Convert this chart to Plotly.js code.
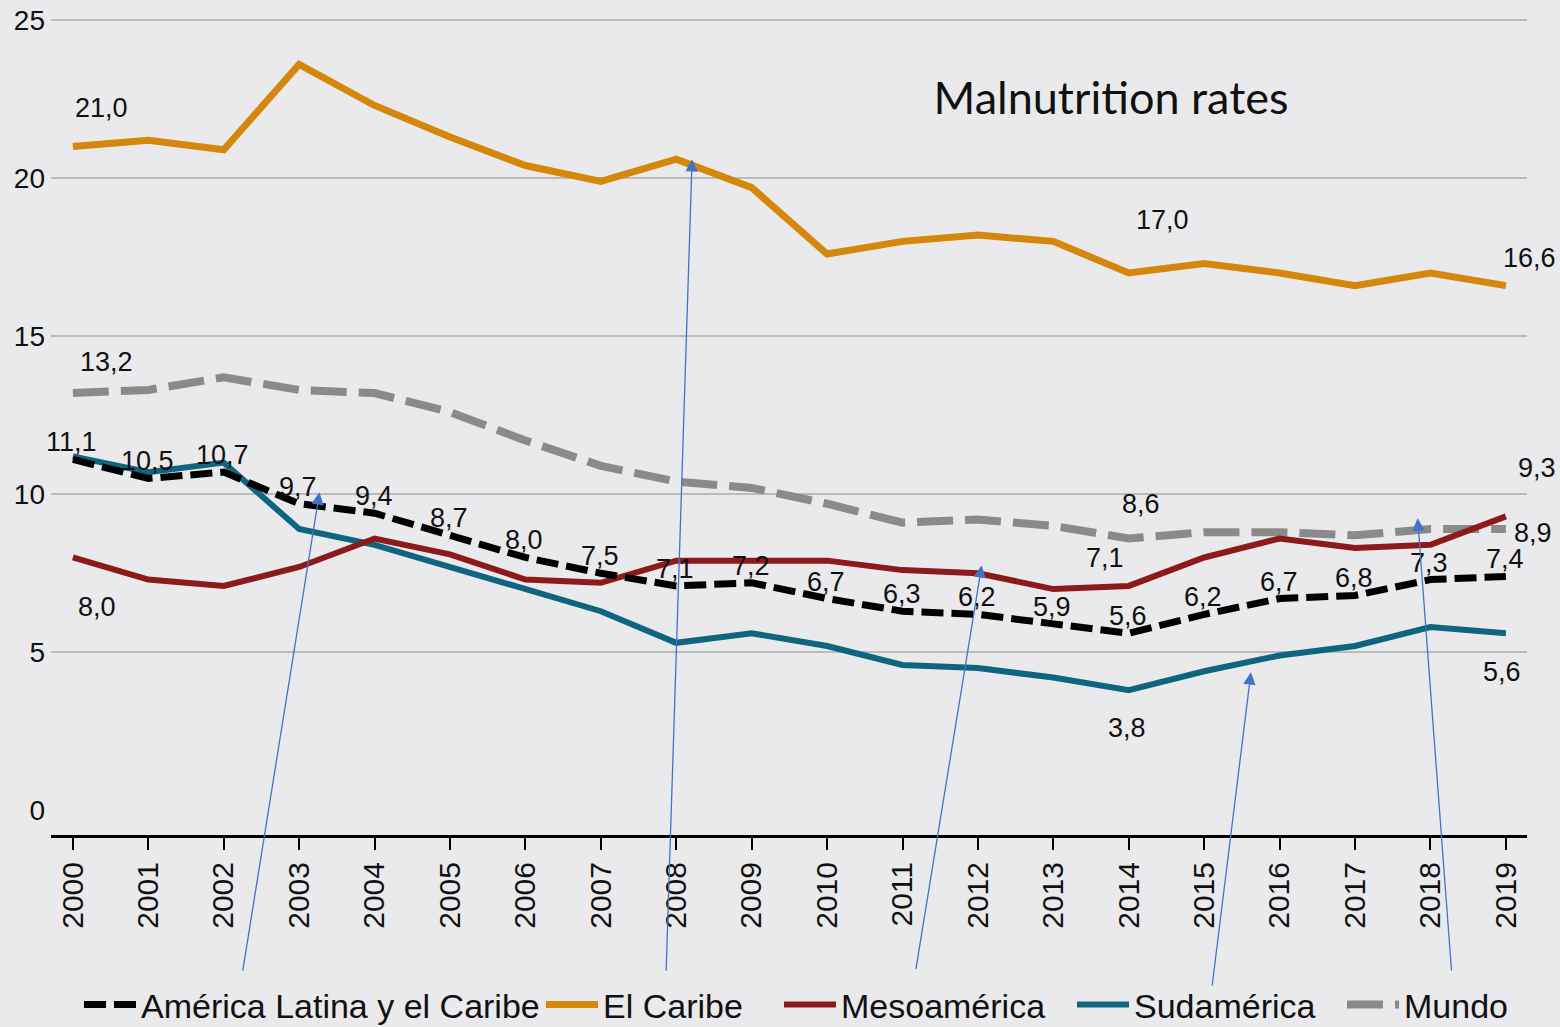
<!DOCTYPE html>
<html><head><meta charset="utf-8">
<script src="https://cdn.plot.ly/plotly-3.0.1.min.js"></script>
<style>html,body{margin:0;padding:0;background:#eaeaec;} #chart{width:1560px;height:1027px;}</style>
</head><body><div id="chart"></div>
<script>
// ---- data ----
const years = [2000,2001,2002,2003,2004,2005,2006,2007,2008,2009,2010,2011,2012,2013,2014,2015,2016,2017,2018,2019];
const yearLabels = ["2000","2001","2002","2003","2004","2005","2006","2007","2008","2009","2010","2011","2012","2013","2014","2015","2016","2017","2018","2019"];
const alc    = [11.1,10.5,10.7,9.7,9.4,8.7,8.0,7.5,7.1,7.2,6.7,6.3,6.2,5.9,5.6,6.2,6.7,6.8,7.3,7.4];
const caribe = [21.0,21.2,20.9,23.6,22.3,21.3,20.4,19.9,20.6,19.7,17.6,18.0,18.2,18.0,17.0,17.3,17.0,16.6,17.0,16.6];
const meso   = [8.0,7.3,7.1,7.7,8.6,8.1,7.3,7.2,7.9,7.9,7.9,7.6,7.5,7.0,7.1,8.0,8.6,8.3,8.4,9.3];
const sud    = [11.2,10.7,11.0,8.9,8.4,7.7,7.0,6.3,5.3,5.6,5.2,4.6,4.5,4.2,3.8,4.4,4.9,5.2,5.8,5.6];
const mundo  = [13.2,13.3,13.7,13.3,13.2,12.6,11.7,10.9,10.4,10.2,9.7,9.1,9.2,9.0,8.6,8.8,8.8,8.7,8.9,8.9];
const seriesNames = ["América Latina y el Caribe","El Caribe","Mesoamérica","Sudamérica","Mundo"];
const chartTitle = "Malnutrition rates";

// ---- styles ----
const SANS = "'Liberation Sans', Arial, Helvetica, sans-serif";
const fmt = v => v.toFixed(1).replace('.', ',');
const C = {alc:'#000000', caribe:'#d4870b', meso:'#8c1a1a', sud:'#0f6480', mundo:'#8a8a8a'};

function tr(y, name, color, width, dash, leg){
  return {x: years, y: y, name: name, type:'scatter', mode:'lines',
    line:{color:color, width:width, dash:dash}, legend: leg, hoverinfo:'skip'};
}
const data = [
  tr(mundo, seriesNames[4], C.mundo, 8, '36px,12px', 'legend5'),
  tr(caribe, seriesNames[1], C.caribe, 7, 'solid', 'legend2'),
  tr(sud, seriesNames[3], C.sud, 6, 'solid', 'legend4'),
  tr(meso, seriesNames[2], C.meso, 6, 'solid', 'legend3'),
  tr(alc, seriesNames[0], C.alc, 7, '22px,8px', 'legend'),
  // invisible carrier so the secondary axis (the "0" label) is drawn
  {x: years, y: alc, yaxis:'y2', type:'scatter', mode:'lines', opacity:0,
    line:{width:0}, showlegend:false, hoverinfo:'skip'}
];

// ---- value labels ----
const annotations = [];
function lab(series, i, dx, dy){
  annotations.push({x: years[i], y: series[i], xref:'x', yref:'y', text: fmt(series[i]),
    showarrow:false, xshift:dx, yshift:dy, xanchor:'center', yanchor:'middle',
    font:{family:SANS, size:27, color:'#111'}});
}
for (let i = 0; i < years.length; i++) lab(alc, i, -1, 17);
lab(caribe, 0, 29, 39); lab(caribe, 14, 34, 53); lab(caribe, 19, 24, 28);
lab(mundo, 0, 34, 31); lab(mundo, 14, 12, 35); lab(mundo, 19, 27, -4);
lab(meso, 0, 24, -50); lab(meso, 14, -24, 28); lab(meso, 19, 31, 48);
lab(sud, 14, -2, -38); lab(sud, 19, -4, -39);

// ---- pointer arrows ----
const arrows = [
  {x:2003.27, y:10.06, ax:-77, ay:480},
  {x:2008.21, y:20.6, ax:-26, ay:813},
  {x:2012.05, y:7.75, ax:-66, ay:405},
  {x:2015.62, y:4.37, ax:-39, ay:315},
  {x:2017.83, y:9.24, ax:34, ay:454}
];
arrows.forEach(a => annotations.push({x:a.x, y:a.y, xref:'x', yref:'y', ax:a.ax, ay:a.ay,
  axref:'pixel', ayref:'pixel', text:'', showarrow:true, arrowhead:2, arrowsize:1.9,
  arrowwidth:1.3, arrowcolor:'#4472c4', standoff:0}));

// legend boxes (one per series, placed like the reference)
const PL = 51, PW = 1476, PB = 835, PH = 825;
function leg(px){
  return {orientation:'h', x:(px - PL)/PW, xanchor:'left', y:(PB - 1005)/PH, yanchor:'middle',
    bgcolor:'rgba(0,0,0,0)', borderwidth:0, itemwidth:52,
    font:{family:SANS, size:34, color:'#111'}};
}

const yfont = {family:SANS, size:28, color:'#111'};
const layout = {
  width:1560, height:1027,
  paper_bgcolor:'#eaeaec', plot_bgcolor:'#eaeaec',
  margin:{l:PL, r:1560 - PL - PW, t:10, b:1027 - PB, autoexpand:false},
  title:{text: chartTitle, x: 1111/1560, xref:'container', xanchor:'center',
    y: 1 - 98/1027, yref:'container', yanchor:'middle',
    font:{family:"Lato, 'Open Sans', sans-serif", size:45, color:'#111'}},
  xaxis:{range:[1999.71, 2019.28], tickvals: years, ticktext: yearLabels, tickangle:-90,
    ticks:'outside', ticklen:12, tickwidth:2, tickcolor:'#000',
    showline:true, linecolor:'#000', linewidth:3, showgrid:false, zeroline:false,
    tickfont:{family:SANS, size:30, color:'#111'}},
  yaxis:{range:[-0.78, 25.32], tickvals:[5,10,15,20,25], showgrid:true, gridcolor:'#b9bcbc',
    gridwidth:2, zeroline:false, showline:false, ticks:'', ticklabelstandoff:5, tickfont:yfont},
  yaxis2:{overlaying:'y', range:[-0.78, 25.32], tickvals:[0], showgrid:false, zeroline:false,
    showline:false, ticks:'', side:'left', ticklabelstandoff:5, tickfont:yfont},
  showlegend:true,
  legend: leg(79), legend2: leg(541), legend3: leg(779), legend4: leg(1072), legend5: leg(1342),
  annotations: annotations
};
Plotly.newPlot('chart', data, layout, {displayModeBar:false, staticPlot:true});
</script>
</body></html>
